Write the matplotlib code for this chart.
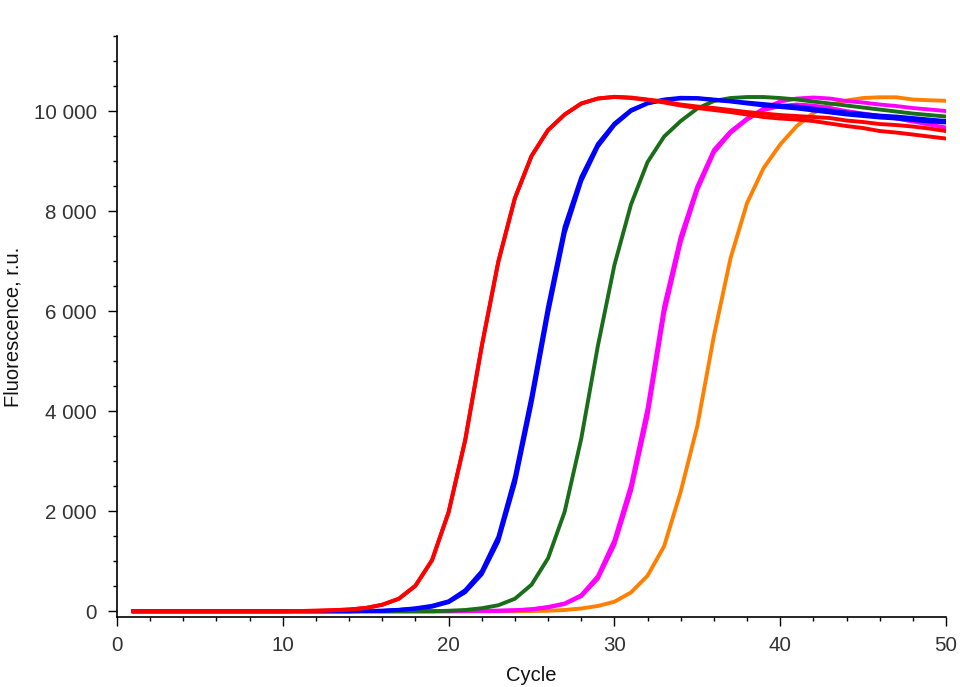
import matplotlib
matplotlib.use("Agg")
import matplotlib.pyplot as plt
from matplotlib.ticker import MultipleLocator, FuncFormatter

plt.rcParams['font.family'] = ['Liberation Sans', 'DejaVu Sans']

cycles = list(range(1, 51))

red_a = [0]*10 + [5, 10, 20, 35, 65, 130, 250, 510, 1020, 1980,
                  3420, 5300, 6990, 8260, 9100, 9620, 9930, 10150, 10250, 10285,
                  10270, 10230, 10190, 10130, 10090, 10060, 10020, 9980, 9950, 9920,
                  9900, 9880, 9860, 9810, 9780, 9740, 9720, 9690, 9650, 9600]
red_b = [0]*10 + [5, 10, 20, 35, 65, 130, 250, 510, 1020, 1980,
                  3420, 5300, 6990, 8260, 9100, 9620, 9930, 10150, 10250, 10280,
                  10260, 10220, 10170, 10110, 10060, 10020, 9980, 9930, 9880, 9850,
                  9830, 9800, 9750, 9700, 9660, 9600, 9570, 9530, 9490, 9450]
blue_a = [0]*14 + [5, 10, 30, 60, 110, 200,
                   420, 800, 1490, 2690, 4300, 6100, 7690, 8680, 9340, 9750,
                   10020, 10160, 10230, 10265, 10260, 10230, 10200, 10170, 10140, 10110,
                   10090, 10050, 10010, 9970, 9940, 9910, 9890, 9860, 9830, 9800]
blue_b = [0]*14 + [5, 10, 25, 50, 90, 180,
                   380, 740, 1400, 2560, 4150, 5950, 7560, 8600, 9290, 9720,
                   10000, 10150, 10220, 10250, 10250, 10220, 10190, 10150, 10110, 10080,
                   10050, 10010, 9970, 9930, 9900, 9870, 9850, 9820, 9790, 9770]
green = [0]*19 + [10,
                  25, 60, 120, 250, 530, 1060, 1990, 3450, 5300, 6920,
                  8130, 8980, 9490, 9800, 10050, 10200, 10260, 10280, 10280, 10260,
                  10230, 10190, 10150, 10110, 10070, 10030, 9990, 9950, 9920, 9890]
magenta_a = [0]*20 + [3, 5, 10, 20, 40, 85, 155, 320, 700, 1420,
                      2520, 4060, 6100, 7490, 8490, 9220, 9590, 9850, 10050, 10190,
                      10250, 10270, 10250, 10200, 10170, 10130, 10100, 10060, 10030, 10000]
magenta_b = [0]*20 + [3, 5, 10, 18, 36, 78, 145, 300, 650, 1330,
                      2400, 3900, 5950, 7380, 8420, 9170, 9560, 9830, 10020, 10100,
                      10130, 10110, 10060, 10000, 9950, 9900, 9850, 9790, 9730, 9670]
orange = [0]*24 + [5, 10, 25, 55, 105, 190,
                   375, 710, 1300, 2390, 3700, 5500, 7050, 8160, 8860, 9330,
                   9700, 9960, 10120, 10210, 10260, 10275, 10275, 10230, 10215, 10205]

series = [
    (orange, '#ff8000'),
    (magenta_b, '#ff00ff'),
    (magenta_a, '#ff00ff'),
    (green, '#1a6e1a'),
    (blue_b, '#0000ff'),
    (blue_a, '#0000ff'),
    (red_b, '#ff0000'),
    (red_a, '#ff0000'),
]

fig = plt.figure(figsize=(9.6, 6.87), dpi=100)
ax = fig.add_axes([0.1219, 0.1019, 0.9854 - 0.1219, 0.9476 - 0.1019])

for vals, col in series:
    ax.plot(cycles, vals, color=col, lw=2.8, solid_joinstyle='round')

ax.set_xlim(0, 50)
ax.set_ylim(-115, 11500)

ax.spines['top'].set_visible(False)
ax.spines['right'].set_visible(False)
for s in ('left', 'bottom'):
    ax.spines[s].set_linewidth(1.2)
    ax.spines[s].set_color('black')

ax.xaxis.set_major_locator(MultipleLocator(10))
ax.xaxis.set_minor_locator(MultipleLocator(2))
ax.yaxis.set_major_locator(MultipleLocator(2000))
ax.yaxis.set_minor_locator(MultipleLocator(500))
ax.yaxis.set_major_formatter(FuncFormatter(lambda v, p: f"{int(round(v)):,}".replace(",", " ")))

ax.tick_params(which='major', length=6.5, width=1.0, color='black',
               labelsize=14.8, labelcolor='#333333')
ax.tick_params(which='minor', length=3, width=1.0, color='black')
ax.tick_params(axis='x', which='major', pad=7)
ax.tick_params(axis='y', which='major', pad=8)

ax.set_xlabel('Cycle', fontsize=14.5, color='#111111', labelpad=8)
ax.set_ylabel('Fluorescence, r.u.', fontsize=14.5, color='#111111', labelpad=8)

fig.savefig('out.png', dpi=100)
